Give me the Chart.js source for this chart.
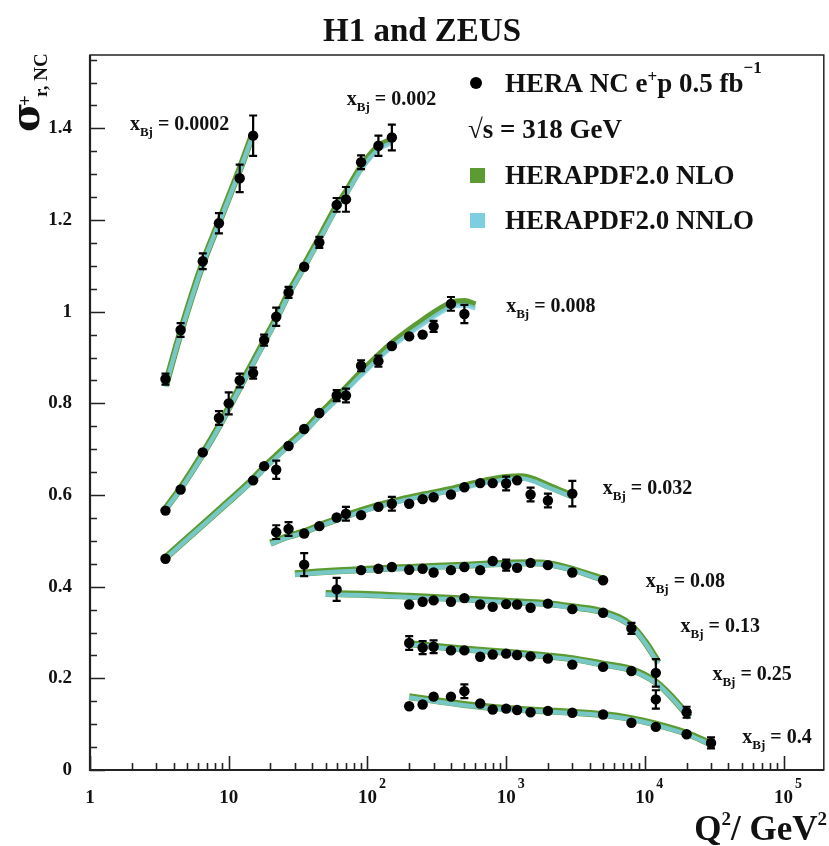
<!DOCTYPE html>
<html>
<head>
<meta charset="utf-8">
<script src="https://cdn.jsdelivr.net/npm/chart.js@4.4.1/dist/chart.umd.min.js"></script>
<style>
  html, body { margin: 0; padding: 0; background: #fff; }
</style>
</head>
<body>
<canvas id="c" width="829" height="846"></canvas>
<script>
// x_Bj bins (labels)
const xbjNames = ['0.0002', '0.002', '0.008', '0.032', '0.08', '0.13', '0.25', '0.4'];

// HERA NC e+p data: Q2, reduced cross section, total error
const q2_0002 = [3.5, 4.5, 6.5, 8.5, 12, 15];
const sig_0002 = [0.853, 0.960, 1.110, 1.193, 1.291, 1.384];
const err_0002 = [0.012, 0.015, 0.017, 0.022, 0.03, 0.044];

const q2_002 = [3.5, 4.5, 6.5, 8.5, 10, 12, 15, 18, 22, 27, 35, 45, 60, 70, 90, 120, 150];
const sig_002 = [0.566, 0.612, 0.693, 0.768, 0.800, 0.850, 0.866, 0.938, 0.989, 1.042, 1.098, 1.151, 1.233, 1.245, 1.326, 1.362, 1.380];
const err_002 = [0.008, 0.012, 0.01, 0.015, 0.024, 0.015, 0.012, 0.012, 0.02, 0.012, 0.012, 0.012, 0.015, 0.027, 0.015, 0.022, 0.028];

const q2_008 = [3.5, 15, 18, 22, 27, 35, 45, 60, 70, 90, 120, 150, 200, 250, 300, 400, 500];
const sig_008 = [0.461, 0.632, 0.663, 0.655, 0.707, 0.744, 0.779, 0.817, 0.817, 0.882, 0.892, 0.925, 0.946, 0.950, 0.968, 1.017, 0.995];
const err_008 = [0.008, 0.008, 0.008, 0.02, 0.008, 0.008, 0.008, 0.012, 0.015, 0.012, 0.012, 0.01, 0.01, 0.01, 0.012, 0.015, 0.02];

const q2_032 = [22, 27, 35, 45, 60, 70, 90, 120, 150, 200, 250, 300, 400, 500, 650, 800, 1000, 1200, 1500, 2000, 3000];
const sig_032 = [0.519, 0.526, 0.516, 0.532, 0.551, 0.559, 0.556, 0.574, 0.581, 0.581, 0.591, 0.595, 0.601, 0.617, 0.626, 0.626, 0.625, 0.632, 0.601, 0.588, 0.603];
const err_032 = [0.015, 0.015, 0.006, 0.006, 0.006, 0.015, 0.006, 0.006, 0.015, 0.006, 0.006, 0.006, 0.006, 0.006, 0.006, 0.008, 0.015, 0.01, 0.015, 0.015, 0.028];

const q2_08 = [35, 90, 120, 150, 200, 250, 300, 400, 500, 650, 800, 1000, 1200, 1500, 2000, 3000, 5000];
const sig_08 = [0.448, 0.436, 0.439, 0.443, 0.437, 0.439, 0.431, 0.436, 0.443, 0.436, 0.456, 0.447, 0.441, 0.452, 0.447, 0.431, 0.414];
const err_08 = [0.025, 0.006, 0.008, 0.01, 0.006, 0.006, 0.006, 0.006, 0.006, 0.006, 0.006, 0.012, 0.006, 0.008, 0.01, 0.01, 0.01];

const q2_13 = [60, 200, 250, 300, 400, 500, 650, 800, 1000, 1200, 1500, 2000, 3000, 5000, 8000, 12000];
const sig_13 = [0.394, 0.361, 0.367, 0.370, 0.367, 0.375, 0.361, 0.356, 0.362, 0.361, 0.354, 0.363, 0.351, 0.343, 0.309, 0.212];
const err_13 = [0.025, 0.006, 0.006, 0.006, 0.006, 0.006, 0.006, 0.006, 0.01, 0.006, 0.006, 0.008, 0.008, 0.008, 0.012, 0.03];

const q2_25 = [200, 250, 300, 400, 500, 650, 800, 1000, 1200, 1500, 2000, 3000, 5000, 8000, 12000, 20000];
const sig_25 = [0.277, 0.267, 0.269, 0.261, 0.261, 0.247, 0.252, 0.254, 0.251, 0.248, 0.243, 0.230, 0.225, 0.216, 0.154, 0.126];
const err_25 = [0.015, 0.014, 0.014, 0.006, 0.006, 0.006, 0.006, 0.008, 0.006, 0.006, 0.006, 0.006, 0.006, 0.01, 0.02, 0.012];

const q2_4 = [200, 250, 300, 400, 500, 650, 800, 1000, 1200, 1500, 2000, 3000, 5000, 8000, 12000, 20000, 30000];
const sig_4 = [0.139, 0.143, 0.160, 0.160, 0.172, 0.145, 0.132, 0.134, 0.131, 0.126, 0.129, 0.125, 0.121, 0.103, 0.094, 0.078, 0.059];
const err_4 = [0.01, 0.008, 0.006, 0.006, 0.015, 0.006, 0.006, 0.006, 0.006, 0.006, 0.006, 0.006, 0.006, 0.006, 0.008, 0.01, 0.012];

// HERAPDF2.0 predictions (NLO / NNLO)
const fitq_0002 = [3.5, 4.5, 6.5, 8.5, 10, 12, 15];
const nlo_0002 = [0.838, 0.955, 1.105, 1.195, 1.249, 1.31, 1.39];
const nnlo_0002 = [0.836, 0.952, 1.102, 1.192, 1.246, 1.307, 1.386];

const fitq_002 = [3.5, 4.5, 6.5, 8.5, 10, 12, 15, 18, 22, 27, 35, 45, 60, 70, 90, 120, 150];
const nlo_002 = [0.57, 0.615, 0.69, 0.75, 0.79, 0.835, 0.89, 0.935, 0.985, 1.04, 1.10, 1.16, 1.23, 1.26, 1.315, 1.36, 1.375];
const nnlo_002 = [0.568, 0.612, 0.687, 0.747, 0.787, 0.832, 0.886, 0.931, 0.981, 1.036, 1.096, 1.156, 1.225, 1.255, 1.31, 1.354, 1.368];

const fitq_008 = [3.5, 5, 7, 10, 15, 18, 22, 27, 35, 45, 60, 90, 150, 250, 400, 500, 600];
const nlo_008 = [0.463, 0.505, 0.544, 0.586, 0.635, 0.66, 0.685, 0.71, 0.74, 0.775, 0.812, 0.867, 0.93, 0.98, 1.018, 1.022, 1.015];
const nnlo_008 = [0.461, 0.503, 0.542, 0.584, 0.632, 0.657, 0.681, 0.706, 0.736, 0.771, 0.807, 0.861, 0.923, 0.972, 1.01, 1.014, 1.007];

const fitq_032 = [20, 27, 35, 45, 60, 90, 150, 250, 400, 650, 1000, 1300, 1600, 2000, 3000];
const nlo_032 = [0.495, 0.51, 0.52, 0.533, 0.547, 0.566, 0.585, 0.6, 0.612, 0.628, 0.638, 0.64, 0.633, 0.62, 0.598];
const nnlo_032 = [0.493, 0.508, 0.518, 0.531, 0.545, 0.563, 0.582, 0.597, 0.609, 0.624, 0.634, 0.636, 0.629, 0.617, 0.595];

const fitq_08 = [30, 50, 100, 200, 500, 1000, 1500, 2000, 3000, 5000];
const nlo_08 = [0.428, 0.433, 0.438, 0.442, 0.447, 0.451, 0.452, 0.45, 0.438, 0.416];
const nnlo_08 = [0.426, 0.431, 0.436, 0.44, 0.445, 0.449, 0.45, 0.448, 0.436, 0.414];

const fitq_13 = [50, 100, 200, 500, 1000, 2000, 3000, 5000, 8000, 10000, 12500];
const nlo_13 = [0.385, 0.383, 0.379, 0.373, 0.368, 0.363, 0.356, 0.345, 0.315, 0.28, 0.235];
const nnlo_13 = [0.383, 0.381, 0.377, 0.371, 0.366, 0.361, 0.354, 0.343, 0.313, 0.278, 0.232];

const fitq_25 = [200, 300, 500, 1000, 2000, 3000, 5000, 8000, 12000, 15000, 21000];
const nlo_25 = [0.276, 0.27, 0.264, 0.257, 0.249, 0.243, 0.231, 0.219, 0.192, 0.165, 0.115];
const nnlo_25 = [0.274, 0.268, 0.262, 0.255, 0.247, 0.241, 0.229, 0.217, 0.19, 0.163, 0.113];

const fitq_4 = [200, 300, 500, 1000, 2000, 3000, 5000, 8000, 12000, 20000, 30000];
const nlo_4 = [0.16, 0.152, 0.143, 0.134, 0.129, 0.126, 0.121, 0.112, 0.1, 0.08, 0.057];
const nnlo_4 = [0.158, 0.15, 0.141, 0.132, 0.127, 0.124, 0.119, 0.11, 0.098, 0.078, 0.055];

// where each x_Bj label sits, in data coordinates (Q2, sigma)
const labelQ2 = [1.94, 71, 1000, 4977, 10140, 18070, 30690, 50350];
const labelSig = [1.396, 1.451, 0.999, 0.602, 0.4, 0.302, 0.196, 0.058];

// axis ticks
const xTickVals = [1, 10, 100, 1000, 10000, 100000];
const xTickBase = ['1', '10', '10', '10', '10', '10'];
const xTickSup = ['', '', '2', '3', '4', '5'];

const bins = [
  { q: q2_0002, s: sig_0002, e: err_0002, fq: fitq_0002, nlo: nlo_0002, nnlo: nnlo_0002 },
  { q: q2_002, s: sig_002, e: err_002, fq: fitq_002, nlo: nlo_002, nnlo: nnlo_002 },
  { q: q2_008, s: sig_008, e: err_008, fq: fitq_008, nlo: nlo_008, nnlo: nnlo_008 },
  { q: q2_032, s: sig_032, e: err_032, fq: fitq_032, nlo: nlo_032, nnlo: nnlo_032 },
  { q: q2_08, s: sig_08, e: err_08, fq: fitq_08, nlo: nlo_08, nnlo: nnlo_08 },
  { q: q2_13, s: sig_13, e: err_13, fq: fitq_13, nlo: nlo_13, nnlo: nnlo_13 },
  { q: q2_25, s: sig_25, e: err_25, fq: fitq_25, nlo: nlo_25, nnlo: nnlo_25 },
  { q: q2_4, s: sig_4, e: err_4, fq: fitq_4, nlo: nlo_4, nnlo: nnlo_4 },
];

const GREEN = '#5b9b32';
const CYAN = '#7dcfe0';
const INK = '#111';
const SERIF = '"Liberation Serif", "Times New Roman", serif';
const bold = (px) => `bold ${px}px ${SERIF}`;

const toXY = (xs, ys) => xs.map((x, i) => ({ x: x, y: ys[i] }));

const datasets = [];
bins.forEach((b) => {
  datasets.push({
    data: toXY(b.fq, b.nlo), showLine: true, pointRadius: 0, borderColor: GREEN,
    borderWidth: 7, cubicInterpolationMode: 'monotone', order: 3,
  });
  datasets.push({
    data: toXY(b.fq, b.nnlo), showLine: true, pointRadius: 0, borderColor: 'rgba(125,207,224,0.85)',
    borderWidth: 4.5, cubicInterpolationMode: 'monotone', order: 2,
  });
  datasets.push({
    data: toXY(b.q, b.s), showLine: false, pointRadius: 5.2, pointBackgroundColor: '#000',
    pointBorderColor: '#000', pointBorderWidth: 0, order: 1,
  });
});

// text with sub/superscripts: parts = [text, size, dy]
function drawRich(ctx, x, y, parts, align) {
  let w = 0;
  parts.forEach((p) => { ctx.font = bold(p[1]); w += ctx.measureText(p[0]).width; });
  let cx = align === 'right' ? x - w : align === 'center' ? x - w / 2 : x;
  ctx.textAlign = 'left';
  parts.forEach((p) => {
    ctx.font = bold(p[1]);
    ctx.fillText(p[0], cx, y + (p[2] || 0));
    cx += ctx.measureText(p[0]).width;
  });
}

const decor = {
  id: 'decor',
  afterDatasetsDraw(chart) {
    const { ctx, chartArea: a, scales: { x, y } } = chart;
    ctx.save();

    // error bars
    ctx.strokeStyle = '#000';
    ctx.lineWidth = 2.2;
    bins.forEach((b) => {
      b.q.forEach((q, i) => {
        const px = x.getPixelForValue(q);
        const yt = y.getPixelForValue(b.s[i] + b.e[i]);
        const yb = y.getPixelForValue(b.s[i] - b.e[i]);
        if (yb - yt < 11) return;
        ctx.beginPath();
        ctx.moveTo(px, yt); ctx.lineTo(px, yb);
        ctx.moveTo(px - 4, yt); ctx.lineTo(px + 4, yt);
        ctx.moveTo(px - 4, yb); ctx.lineTo(px + 4, yb);
        ctx.stroke();
      });
    });

    // frame
    ctx.strokeStyle = '#222';
    ctx.lineWidth = 1.5;
    ctx.strokeRect(a.left, a.top, a.right - a.left, a.bottom - a.top);
    ctx.lineWidth = 2.2;
    ctx.beginPath();
    ctx.moveTo(a.left, a.top); ctx.lineTo(a.left, a.bottom); ctx.lineTo(a.right, a.bottom);
    ctx.stroke();

    // y ticks (inside)
    ctx.lineWidth = 1.6;
    ctx.beginPath();
    for (let k = 0; k * 0.05 <= y.max + 1e-9; k++) {
      const py = Math.round(y.getPixelForValue(k * 0.05)) + 0.5;
      const len = k % 4 === 0 ? 15 : 7;
      ctx.moveTo(a.left, py); ctx.lineTo(a.left + len, py);
    }
    // x ticks (inside)
    for (let d = 0; d <= 5; d++) {
      for (let m = 1; m <= 9; m++) {
        const v = m * Math.pow(10, d);
        if (v > x.max) break;
        const px = Math.round(x.getPixelForValue(v)) + 0.5;
        const len = m === 1 ? 14 : 7;
        ctx.moveTo(px, a.bottom); ctx.lineTo(px, a.bottom - len);
      }
    }
    ctx.stroke();

    // x tick labels
    ctx.fillStyle = INK;
    ctx.textBaseline = 'alphabetic';
    xTickVals.forEach((v, i) => {
      const px = x.getPixelForValue(v);
      ctx.font = bold(19);
      ctx.textAlign = 'center';
      ctx.fillText(xTickBase[i], px, 803);
      if (xTickSup[i]) {
        const w = ctx.measureText(xTickBase[i]).width;
        ctx.font = bold(14);
        ctx.textAlign = 'left';
        ctx.fillText(xTickSup[i], px + w / 2 + 2, 788);
      }
    });

    // x_Bj labels
    xbjNames.forEach((n, i) => {
      const px = x.getPixelForValue(labelQ2[i]);
      const py = y.getPixelForValue(labelSig[i]);
      drawRich(ctx, px, py, [['x', 20, 0], ['Bj', 13, 6], [' = ' + n, 20, 0]], 'left');
    });

    // legend
    ctx.fillStyle = '#000';
    ctx.beginPath();
    ctx.arc(476, 83, 6, 0, Math.PI * 2);
    ctx.fill();
    ctx.fillStyle = INK;
    drawRich(ctx, 505, 92, [['HERA NC e', 27, 0], ['+', 17, -10], ['p 0.5 fb', 27, 0], ['\u22121', 17, -19]], 'left');
    drawRich(ctx, 468, 138, [['\u221As = 318 GeV', 27, 0]], 'left');
    ctx.fillStyle = GREEN;
    ctx.fillRect(470, 168, 15, 15);
    ctx.fillStyle = CYAN;
    ctx.fillRect(470, 213, 15, 15);
    ctx.fillStyle = INK;
    drawRich(ctx, 505, 184, [['HERAPDF2.0 NLO', 27, 0]], 'left');
    drawRich(ctx, 505, 229, [['HERAPDF2.0 NNLO', 27, 0]], 'left');

    // title
    drawRich(ctx, 422, 41, [['H1 and ZEUS', 33, 0]], 'center');

    // x axis title
    drawRich(ctx, 827, 840, [['Q', 35, 0], ['2', 19, -15], ['/ GeV', 35, 0], ['2', 19, -15]], 'right');

    // y axis title (rotated)
    ctx.save();
    ctx.translate(39, 132);
    ctx.rotate(-Math.PI / 2);
    ctx.font = `bold 40px "DejaVu Serif", ${SERIF}`;
    ctx.fillText('\u03C3', 0, 0);
    ctx.font = bold(19);
    ctx.fillText('+', 26, -8);
    ctx.fillText('r, NC', 35, 8);
    ctx.restore();

    ctx.restore();
  },
};

new Chart('c', {
  type: 'scatter',
  data: { datasets: datasets },
  options: {
    responsive: false,
    animation: false,
    devicePixelRatio: 1,
    layout: { padding: { top: 55, right: 2, left: 0, bottom: 0 } },
    plugins: {
      legend: { display: false },
      tooltip: { enabled: false },
      title: { display: false },
    },
    scales: {
      x: {
        type: 'logarithmic',
        min: 1,
        max: 195000,
        grid: { display: false, drawTicks: false },
        border: { display: false },
        ticks: { display: false },
        afterFit: (s) => { s.height = 76; },
      },
      y: {
        type: 'linear',
        min: 0,
        max: 1.56,
        grid: { display: false, drawTicks: false },
        border: { display: false },
        ticks: {
          stepSize: 0.2,
          padding: 18,
          color: INK,
          font: { family: SERIF, size: 19, weight: 'bold' },
          callback: (v) => {
            const r = v / 0.2;
            if (Math.abs(r - Math.round(r)) > 1e-6) return null;
            return String(Number(v.toFixed(1)));
          },
        },
        afterFit: (s) => { s.width = 90; },
      },
    },
  },
  plugins: [decor],
});
</script>
</body>
</html>
